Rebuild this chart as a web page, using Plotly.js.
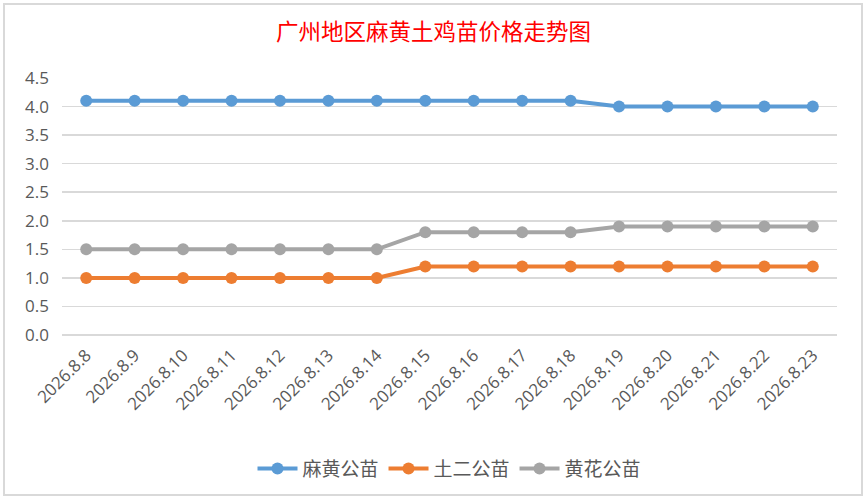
<!DOCTYPE html>
<html>
<head>
<meta charset="utf-8">
<script src="https://cdn.plot.ly/plotly-3.0.1.min.js"></script>
<style>
  html, body { margin: 0; padding: 0; background: #fff; }
  #chart { width: 867px; height: 499px; }
  #frame {
    position: absolute; left: 3px; top: 3px; width: 856px; height: 489px;
    border: 2px solid #d9d9d9; pointer-events: none;
  }
</style>
</head>
<body>
<div id="chart"></div>
<div id="frame"></div>
<script>
const dates = ["2026.8.8", "2026.8.9", "2026.8.10", "2026.8.11", "2026.8.12", "2026.8.13", "2026.8.14",
  "2026.8.15", "2026.8.16", "2026.8.17", "2026.8.18", "2026.8.19", "2026.8.20", "2026.8.21",
  "2026.8.22", "2026.8.23"];
const mahuang = [4.1, 4.1, 4.1, 4.1, 4.1, 4.1, 4.1, 4.1, 4.1, 4.1, 4.1, 4.0, 4.0, 4.0, 4.0, 4.0];
const tuer = [1.0, 1.0, 1.0, 1.0, 1.0, 1.0, 1.0, 1.2, 1.2, 1.2, 1.2, 1.2, 1.2, 1.2, 1.2, 1.2];
const huanghua = [1.5, 1.5, 1.5, 1.5, 1.5, 1.5, 1.5, 1.8, 1.8, 1.8, 1.8, 1.9, 1.9, 1.9, 1.9, 1.9];

const cjk = "'Noto Sans CJK SC', 'DejaVu Sans', sans-serif";
const latin = "'Open Sans', 'DejaVu Sans', sans-serif";

function series(name, values, color) {
  return {
    type: "scatter",
    mode: "lines+markers",
    name: name,
    x: dates,
    y: values,
    line: { color: color, width: 4 },
    marker: { color: color, size: 12 },
  };
}

Plotly.newPlot(
  "chart",
  [
    series("麻黄公苗", mahuang, "#5b9bd5"),
    series("土二公苗", tuer, "#ed7d31"),
    series("黄花公苗", huanghua, "#a5a5a5"),
  ],
  {
    width: 867,
    height: 499,
    margin: { l: 62, r: 30, t: 78, b: 164 },
    paper_bgcolor: "#fff",
    plot_bgcolor: "#fff",
    title: {
      text: "广州地区麻黄土鸡苗价格走势图",
      font: { family: cjk, size: 22.5, color: "#ff0000" },
      x: 0.5,
      xanchor: "center",
      y: 0.935,
      yanchor: "middle",
    },
    xaxis: {
      type: "category",
      range: [-0.5, dates.length - 0.5],
      automargin: false,
      tickangle: -45,
      tickfont: { family: latin, size: 17, color: "#595959" },
      ticklabelstandoff: 6,
      showgrid: false,
      showline: false,
      zeroline: false,
      ticks: "",
    },
    yaxis: {
      range: [0, 4.5],
      dtick: 0.5,
      automargin: false,
      tickformat: ".1f",
      tickfont: { family: latin, size: 17, color: "#595959" },
      ticklabelstandoff: 12,
      gridcolor: "#d9d9d9",
      gridwidth: 1.5,
      zeroline: true,
      zerolinecolor: "#d9d9d9",
      zerolinewidth: 1.5,
      showline: false,
      ticks: "",
      ticklen: 0,
    },
    showlegend: true,
    legend: {
      orientation: "h",
      x: 0.5,
      xanchor: "center",
      y: -0.52,
      yanchor: "middle",
      font: { family: cjk, size: 19, color: "#595959" },
      itemwidth: 40,
    },
  },
  { displayModeBar: false, staticPlot: true }
);
</script>
</body>
</html>
